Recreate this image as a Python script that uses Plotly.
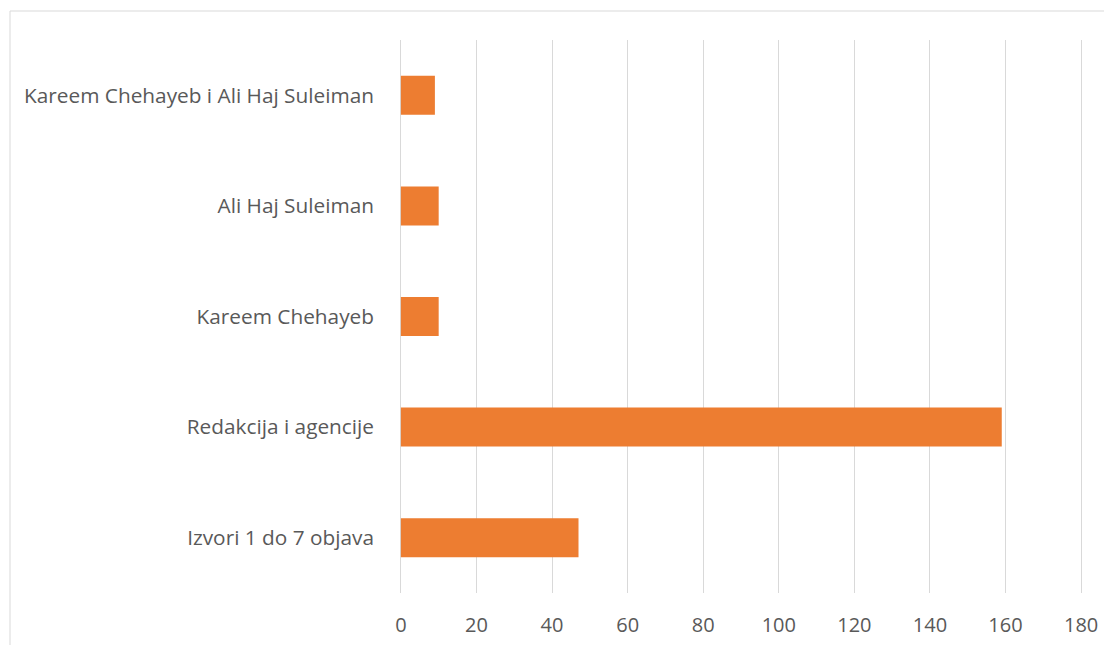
import plotly.graph_objects as go

categories = ["Izvori 1 do 7 objava", "Redakcija i agencije", "Kareem Chehayeb",
              "Ali Haj Suleiman", "Kareem Chehayeb i Ali Haj Suleiman"]
values = [47, 159, 10, 10, 9]
x_ticks = [0, 20, 40, 60, 80, 100, 120, 140, 160, 180]

OFF = 8  # page body margin (left/top)
W, H = 1112 - OFF, 645 - OFF
L, R, T, B = 399 - OFF, 29, 40 - OFF, 52
pw, ph = W - L - R, H - T - B

fig = go.Figure(go.Bar(
    y=categories, x=values, orientation="h",
    marker=dict(color="#ED7D31", line=dict(width=0)),
))
fig.update_layout(
    width=W, height=H,
    margin=dict(l=L, r=R, t=T, b=B, autoexpand=False),
    paper_bgcolor="white", plot_bgcolor="white",
    bargap=0.647,
    showlegend=False,
    font=dict(family="Open Sans", color="#595959", size=20),
    xaxis=dict(range=[-0.5, 180.5], tickvals=x_ticks, showgrid=True, gridcolor="#d9d9d9",
               gridwidth=1, zeroline=True, zerolinecolor="#d9d9d9", zerolinewidth=1,
               showline=False, ticks="", automargin=False,
               tickfont=dict(size=20), ticklabelstandoff=18),
    yaxis=dict(showgrid=False, zeroline=False, showline=False, ticks="", automargin=False,
               tickfont=dict(size=20.8), ticklabelstandoff=24),
)
fig.add_shape(type="rect", xref="paper", yref="paper",
              x0=(10 - 399) / pw, x1=1.2, y0=-0.3, y1=(593 - 11) / ph,
              line=dict(color="#d9d9d9", width=1), layer="below")
fig.write_html("out.html", config={"displayModeBar": False})
